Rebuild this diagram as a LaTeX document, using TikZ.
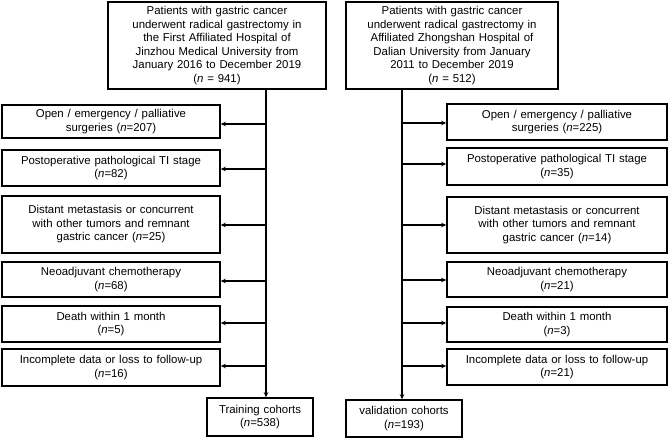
\documentclass[tikz,border=0pt]{standalone}
\usepackage{fontspec}
\setmainfont{Liberation Sans}
\usetikzlibrary{arrows.meta}
\begin{document}
\begin{tikzpicture}[x=1pt,y=-1pt,
  box/.style={draw=black,line width=1.6pt,align=center,inner sep=1pt,font=\fontsize{11.4}{13.5}\selectfont},
  arr/.style={line width=1.5pt,-{Stealth[length=5pt,width=4.5pt]}},
  ln/.style={line width=1.5pt}]
\useasboundingbox[fill=white] (0,0) rectangle (669,438);
% left column
\node[box,minimum width=218pt,minimum height=87pt,text width=214pt] (topL) at (217,45.5)
 {Patients with gastric cancer\\underwent radical gastrectomy in\\the First Affiliated Hospital of\\Jinzhou Medical University from\\January 2016 to December 2019\\(\textit{n} = 941)};
\node[box,minimum width=218pt,minimum height=33pt,text width=214pt] (l1) at (111,121.5) {Open / emergency / palliative\\surgeries (\textit{n}=207)};
\node[box,minimum width=218pt,minimum height=36pt,text width=214pt] (l2) at (111,168) {Postoperative pathological TI stage\\(\textit{n}=82)};
\node[box,minimum width=218pt,minimum height=57pt,text width=214pt] (l3) at (111,224.5) {Distant metastasis or concurrent\\with other tumors and remnant\\gastric cancer (\textit{n}=25)};
\node[box,minimum width=218pt,minimum height=35pt,text width=214pt] (l4) at (111,279.5) {Neoadjuvant chemotherapy\\(\textit{n}=68)};
\node[box,minimum width=218pt,minimum height=36pt,text width=214pt] (l5) at (111,324) {Death within 1 month\\(\textit{n}=5)};
\node[box,minimum width=218pt,minimum height=37pt,text width=214pt] (l6) at (111,367.5) {Incomplete data or loss to follow-up\\(\textit{n}=16)};
\node[box,minimum width=106pt,minimum height=38pt,text width=102pt] (trL) at (260,417) {Training cohorts\\(\textit{n}=538)};
\coordinate (vL) at (266,89);
\draw[arr] (vL) -- (vL |- trL.north);
\foreach \b/\yy in {l1/124,l2/169,l3/225,l4/281,l5/323,l6/366}
  \draw[arr] (266,\yy) -- (\b.east |- 0,\yy);
% right column
\node[box,minimum width=212pt,minimum height=87pt,text width=208pt] (topR) at (452,45.5)
 {Patients with gastric cancer\\underwent radical gastrectomy in\\Affiliated Zhongshan Hospital of\\Dalian University from January\\2011 to December 2019\\(\textit{n} = 512)};
\node[box,minimum width=220pt,minimum height=36pt,text width=216pt] (r1) at (557,122) {Open / emergency / palliative\\surgeries (\textit{n}=225)};
\node[box,minimum width=220pt,minimum height=37pt,text width=216pt] (r2) at (557,166.5) {Postoperative pathological TI stage\\(\textit{n}=35)};
\node[box,minimum width=220pt,minimum height=56pt,text width=216pt] (r3) at (557,225) {Distant metastasis or concurrent\\with other tumors and remnant\\gastric cancer (\textit{n}=14)};
\node[box,minimum width=220pt,minimum height=35pt,text width=216pt] (r4) at (557,279.5) {Neoadjuvant chemotherapy\\(\textit{n}=21)};
\node[box,minimum width=220pt,minimum height=35pt,text width=216pt] (r5) at (557,324.5) {Death within 1 month\\(\textit{n}=3)};
\node[box,minimum width=220pt,minimum height=36pt,text width=216pt] (r6) at (557,367) {Incomplete data or loss to follow-up\\(\textit{n}=21)};
\node[box,minimum width=116pt,minimum height=37pt,text width=112pt] (trR) at (404,418.5) {validation cohorts\\(\textit{n}=193)};
\coordinate (vR) at (402,89);
\draw[arr] (vR) -- (vR |- trR.north);
\foreach \b/\yy in {r1/123,r2/164,r3/225,r4/280,r5/323,r6/366}
  \draw[arr] (402,\yy) -- (\b.west |- 0,\yy);
\end{tikzpicture}
\end{document}
